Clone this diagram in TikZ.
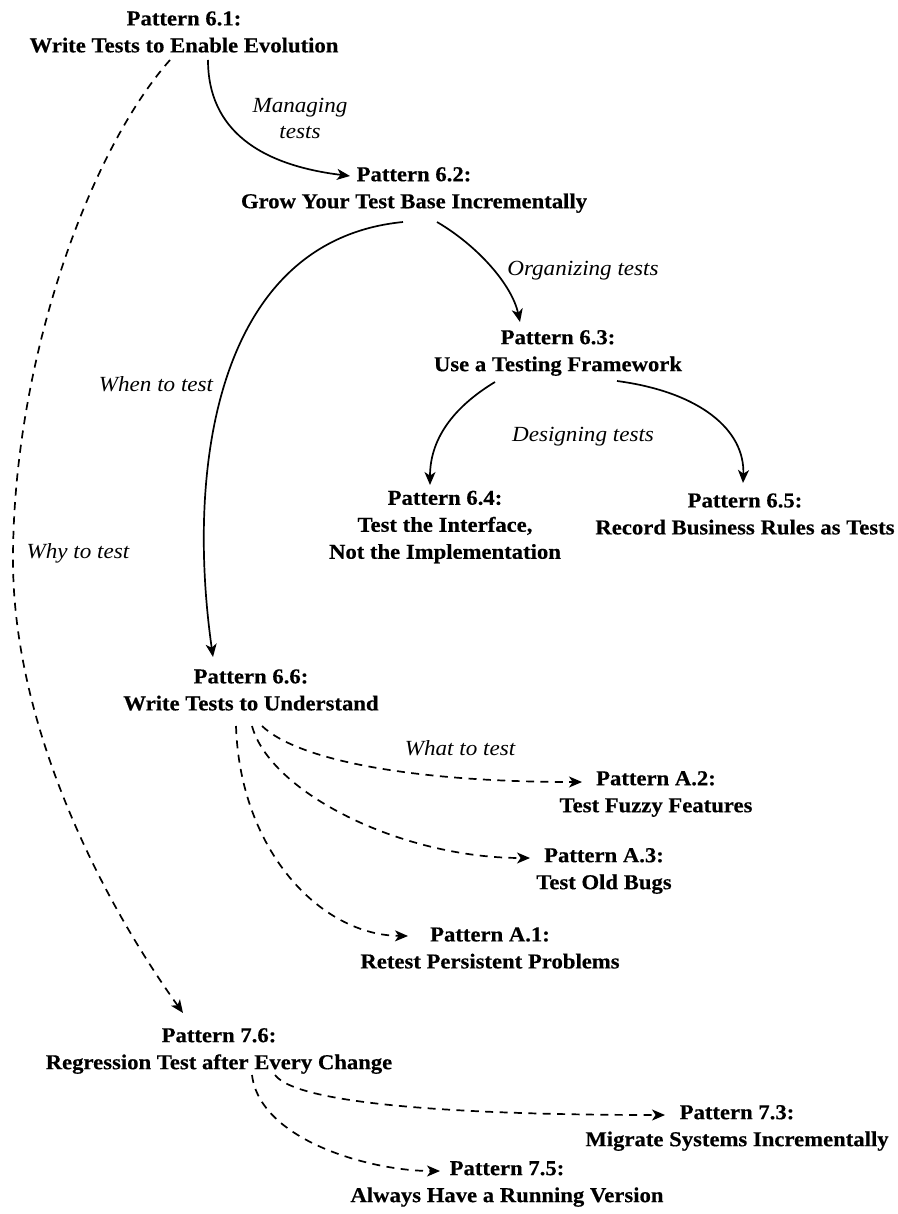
\documentclass[tikz,border=0pt]{standalone}
\usepackage{fontspec}
\setmainfont{Liberation Serif}[FakeStretch=1.07, BoldFeatures={FakeBold=0.4}]
\usetikzlibrary{arrows.meta,calc}

\newcommand{\patfont}{\fontsize{10.6}{13.5}\selectfont\bfseries}
\newcommand{\lblfont}{\fontsize{10.8}{13}\selectfont\itshape}

\tikzset{
  pat/.style={font=\patfont, align=center, inner sep=2pt},
  lbl/.style={font=\lblfont, align=center, inner sep=1pt},
  link/.style={line width=0.85pt, -{Stealth[length=6.5pt,width=5.5pt,inset=1.8pt]}},
  dlink/.style={link, dash pattern=on 4pt off 3.2pt},
}

\begin{document}
\begin{tikzpicture}[x=0.5pt,y=-0.5pt]
  \useasboundingbox (0,0) rectangle (898,1214);

  % pattern nodes
  \node[pat] (p61) at (184,32)   {Pattern 6.1:\\Write Tests to Enable Evolution};
  \node[pat] (p62) at (414,190)  {Pattern 6.2:\\Grow Your Test Base Incrementally};
  \node[pat] (p63) at (558,353)  {Pattern 6.3:\\Use a Testing Framework};
  \node[pat] (p64) at (445,527)  {Pattern 6.4:\\Test the Interface,\\Not the Implementation};
  \node[pat] (p65) at (745,514)  {Pattern 6.5:\\Record Business Rules as Tests};
  \node[pat] (p66) at (251,690)  {Pattern 6.6:\\Write Tests to Understand};
  \node[pat] (pA2) at (656,794)  {Pattern A.2:\\Test Fuzzy Features};
  \node[pat] (pA3) at (604,871)  {Pattern A.3:\\Test Old Bugs};
  \node[pat] (pA1) at (490,948)  {Pattern A.1:\\Retest Persistent Problems};
  \node[pat] (p76) at (219,1051) {Pattern 7.6:\\Regression Test after Every Change};
  \node[pat] (p73) at (737,1128) {Pattern 7.3:\\Migrate Systems Incrementally};
  \node[pat] (p75) at (507,1184) {Pattern 7.5:\\Always Have a Running Version};

  % edge labels
  \node[lbl] (lManage) at (300,118) {Managing\\tests};
  \node[lbl] (lOrg)    at (583,271) {Organizing tests};
  \node[lbl] (lWhen)   at (156,384) {When to test};
  \node[lbl] (lDesign) at (583,437) {Designing tests};
  \node[lbl] (lWhy)    at (78,553)  {Why to test};
  \node[lbl] (lWhat)   at (460,748) {What to test};

  % solid links
  \draw[link] ($(p61)+(24,28)$) .. controls (208,130) and (260,165) .. ($(p62)+(-64,-14)$);
  \draw[link] ($(p62)+(23,32)$) .. controls (478,246) and (512,285) .. ($(p63)+(-38,-31)$);
  \draw[link] ($(p62)+(-11,32)$) .. controls (220,240) and (185,460) .. ($(p66)+(-38,-33)$);
  \draw[link] ($(p63)+(-63,29)$) .. controls (452,408) and (430,440) .. ($(p64)+(-15,-42)$);
  \draw[link] ($(p63)+(59,28)$) .. controls (700,392) and (745,430) .. ($(p65)+(-2,-31)$);

  % dashed links
  \draw[dlink] ($(p61)+(-14,28)$) .. controls (90,150) and (13,360) .. (13,560)
                                  .. controls (13,720) and (95,890) .. ($(p76)+(-36,-38)$);
  \draw[dlink] ($(p66)+(11,36)$) .. controls (300,762) and (420,782) .. ($(pA2)+(-74,-12)$);
  \draw[dlink] ($(p66)+(1,36)$) .. controls (270,792) and (400,858) .. ($(pA3)+(-74,-13)$);
  \draw[dlink] ($(p66)+(-15,36)$) .. controls (240,850) and (320,935) .. ($(pA1)+(-82,-12)$);
  \draw[dlink] ($(p76)+(56,24)$) .. controls (300,1108) and (500,1115) .. ($(p73)+(-72,-13)$);
  \draw[dlink] ($(p76)+(33,24)$) .. controls (260,1140) and (370,1171) .. ($(p75)+(-67,-13)$);
\end{tikzpicture}
\end{document}
